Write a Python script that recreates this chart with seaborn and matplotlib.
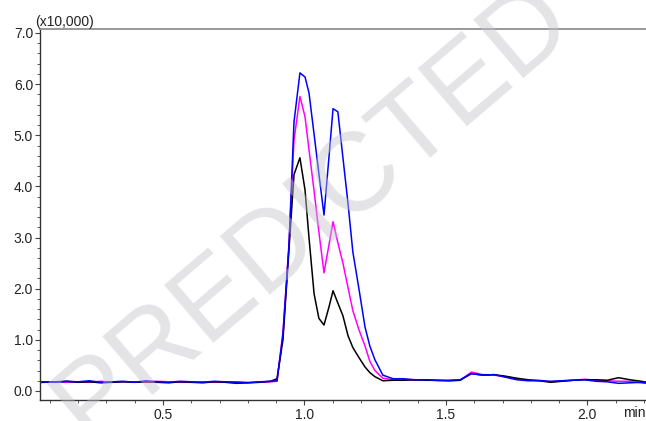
import numpy as np
import pandas as pd
import matplotlib
matplotlib.use("Agg")
import matplotlib.pyplot as plt
import seaborn as sns
from matplotlib.ticker import MultipleLocator, FormatStrFormatter

# retention time (min), shared by the three traces
time_base1 = [0.04, 0.08, 0.12, 0.16, 0.20, 0.24, 0.28, 0.32, 0.36, 0.40, 0.44,
              0.48, 0.52, 0.56, 0.60, 0.64, 0.68, 0.72, 0.76, 0.80, 0.84, 0.88]
time_peak = [0.903, 0.924, 0.945, 0.963, 0.984, 1.002, 1.016, 1.034, 1.051, 1.069,
             1.087, 1.101, 1.118, 1.136, 1.154, 1.171, 1.193, 1.214, 1.231, 1.249,
             1.277, 1.313]
time_base2 = [1.35, 1.39, 1.43, 1.47, 1.51, 1.55, 1.59, 1.63, 1.67, 1.71, 1.75, 1.79,
              1.83, 1.87, 1.91, 1.95, 1.99, 2.03, 2.07, 2.11, 2.15, 2.19, 2.23]
time = time_base1 + time_peak + time_base2

# intensities (x10,000)
blue = ([0.17, 0.18, 0.17, 0.19, 0.18, 0.20, 0.17, 0.18, 0.19, 0.17, 0.20,
         0.18, 0.17, 0.19, 0.18, 0.17, 0.19, 0.18, 0.17, 0.16, 0.18, 0.19]
        + [0.20, 1.10, 2.80, 5.26, 6.22, 6.14, 5.83, 5.02, 4.25, 3.44,
           4.60, 5.52, 5.46, 4.56, 3.66, 2.72, 1.98, 1.25, 0.88, 0.61,
           0.31, 0.24]
        + [0.24, 0.22, 0.22, 0.21, 0.21, 0.22, 0.34, 0.31, 0.32, 0.27, 0.22, 0.20,
           0.20, 0.19, 0.20, 0.21, 0.22, 0.19, 0.18, 0.15, 0.16, 0.17, 0.14])
magenta = ([0.16, 0.17, 0.18, 0.17, 0.18, 0.17, 0.19, 0.17, 0.18, 0.18, 0.17,
            0.19, 0.18, 0.17, 0.17, 0.18, 0.17, 0.18, 0.18, 0.17, 0.17, 0.18]
           + [0.19, 1.15, 2.85, 4.90, 5.76, 5.36, 4.72, 3.91, 3.11, 2.31,
              2.87, 3.31, 2.90, 2.50, 2.02, 1.57, 1.19, 0.88, 0.58, 0.40,
              0.25, 0.22]
           + [0.22, 0.21, 0.22, 0.20, 0.20, 0.21, 0.37, 0.32, 0.31, 0.28, 0.24, 0.21,
              0.21, 0.18, 0.20, 0.21, 0.23, 0.21, 0.20, 0.19, 0.19, 0.16, 0.14])
black = ([0.17, 0.17, 0.18, 0.19, 0.17, 0.18, 0.16, 0.17, 0.18, 0.17, 0.18,
          0.17, 0.16, 0.18, 0.17, 0.16, 0.18, 0.17, 0.15, 0.16, 0.17, 0.19]
         + [0.24, 1.00, 2.75, 4.23, 4.56, 3.93, 3.00, 1.90, 1.42, 1.29,
            1.65, 1.96, 1.72, 1.47, 1.08, 0.85, 0.65, 0.47, 0.36, 0.28,
            0.20, 0.21]
         + [0.21, 0.22, 0.21, 0.21, 0.20, 0.21, 0.34, 0.31, 0.32, 0.29, 0.25, 0.22,
            0.20, 0.17, 0.19, 0.21, 0.22, 0.22, 0.21, 0.26, 0.22, 0.19, 0.15])

traces = ["Ch2", "Ch3", "Ch1"]
colors = {"Ch1": "#0000ff", "Ch2": "#ff00ff", "Ch3": "#000000"}

df = pd.concat([
    pd.DataFrame({"time": time, "intensity": magenta, "trace": "Ch2"}),
    pd.DataFrame({"time": time, "intensity": black, "trace": "Ch3"}),
    pd.DataFrame({"time": time, "intensity": blue, "trace": "Ch1"}),
])

sns.set_style("ticks")
plt.rcParams["font.family"] = ["Liberation Sans", "DejaVu Sans"]

fig = plt.figure(figsize=(6.46, 4.21), dpi=100)
ax = fig.add_axes([40 / 646, 1 - 400 / 421, 1 - 40 / 646, 371 / 421])

sns.lineplot(data=df, x="time", y="intensity", hue="trace", hue_order=traces,
             palette=colors, estimator=None, sort=False, legend=False,
             linewidth=1.1, ax=ax)

ax.set_xlim(0.0654, 2.207)
ax.set_ylim(-0.176, 7.078)
ax.set_xlabel("")
ax.set_ylabel("")

ax.set_xticks([0.5, 1.0, 1.5, 2.0])
ax.xaxis.set_major_formatter(FormatStrFormatter("%.1f"))
ax.xaxis.set_minor_locator(MultipleLocator(0.1))
ax.set_yticks(np.arange(0, 8, 1.0))
ax.yaxis.set_major_formatter(FormatStrFormatter("%.1f"))
ax.yaxis.set_minor_locator(MultipleLocator(0.2))

ax.tick_params(which="major", direction="out", length=3.5, width=0.8,
               color="#444444", labelsize=10, labelcolor="#222222", pad=1.5)
ax.tick_params(axis="x", which="major", pad=2)
ax.tick_params(which="minor", direction="out", length=2, width=0.6, color="#444444")

for side in ["left", "bottom"]:
    ax.spines[side].set_color("#333333")
    ax.spines[side].set_linewidth(1.0)
ax.spines["top"].set_visible(True)
ax.spines["top"].set_color("#999999")
ax.spines["top"].set_linewidth(1.4)
ax.spines["right"].set_visible(False)

fig.text(35 / 646, 1 - 26 / 421, "(x10,000)", fontsize=10, color="#222222",
         va="baseline", ha="left")
fig.text(623 / 646, 1 - 417 / 421, "min", fontsize=10, color="#222222",
         va="baseline", ha="left")

# watermark
fig.text(314 / 646, 1 - 212 / 421, "PREDICTED", fontsize=80, rotation=40.5,
         ha="center", va="center", rotation_mode="anchor",
         color="#c4c4c8", alpha=0.45, zorder=10)

fig.savefig("out.png", dpi=100)
